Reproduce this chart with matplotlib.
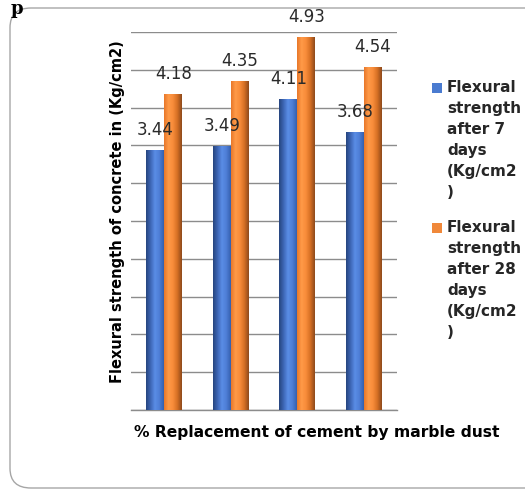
import numpy as np
import matplotlib
matplotlib.use('Agg')
import matplotlib.pyplot as plt
from matplotlib.colors import LinearSegmentedColormap
from matplotlib.patches import FancyBboxPatch, Rectangle

# data
categories = ['0%', '5%', '10%', '15%']
strength_7 = [3.44, 3.49, 4.11, 3.68]
strength_28 = [4.18, 4.35, 4.93, 4.54]
legend_labels = ['Flexural\nstrength\nafter 7\ndays\n(Kg/cm2\n)',
                 'Flexural\nstrength\nafter 28\ndays\n(Kg/cm2\n)']

blue = '#4A7BD0'
orange = '#F0883A'
blue_cmap = LinearSegmentedColormap.from_list('b', ['#26457F', '#3D66B5', '#5A8DE6', '#4E7ED6', '#3560AE'])
orange_cmap = LinearSegmentedColormap.from_list('o', ['#E8782A', '#FF9A48', '#F88C3A', '#D56F24', '#8E4A1C'])

fig = plt.figure(figsize=(5.25, 4.91), dpi=100)

# rounded chart border (behind the axes), right edge runs past the image
fig.patches.append(FancyBboxPatch((10/525, 1 - 488/491), 540/525, 480/491,
                                  boxstyle='round,pad=0,rounding_size=0.04',
                                  transform=fig.transFigure, facecolor='none',
                                  edgecolor='#A6A6A6', linewidth=1.0, zorder=-1))
fig.text(0.02, 0.999, 'p', fontsize=13, fontweight='bold', family='DejaVu Serif',
         va='top', ha='left')

ax = fig.add_axes([131/525, 1 - 410/491, 266/525, 378/491])
ax.set_facecolor('none')

x = np.arange(len(categories))
w = 0.27
b1 = ax.bar(x - w/2, strength_7, w, color=blue, zorder=2)
b2 = ax.bar(x + w/2, strength_28, w, color=orange, zorder=2)

# cylinder-like shading on each bar
grad = np.linspace(0, 1, 64).reshape(1, -1)
for bars, cmap in [(b1, blue_cmap), (b2, orange_cmap)]:
    for r in bars:
        x0, y0 = r.get_x(), r.get_y()
        im = ax.imshow(grad, extent=[x0, x0 + r.get_width(), y0, y0 + r.get_height()],
                       aspect='auto', cmap=cmap, zorder=3)
        im.set_clip_path(r)

for bars, vals in [(b1, strength_7), (b2, strength_28)]:
    for r, v in zip(bars, vals):
        ax.annotate('%.2f' % v, (r.get_x() + r.get_width()/2, v), xytext=(0, 14.5),
                    textcoords='offset points', ha='center', va='center',
                    fontsize=12, color='#2A2A2A', zorder=5, annotation_clip=False)

ax.set_xlim(-0.5, 3.5)
ax.set_ylim(0, 5)
ax.set_yticks(np.arange(0, 5.01, 0.5))
ax.yaxis.grid(True, color='#8C8C8C', linewidth=1.0, zorder=1)
ax.set_axisbelow(True)
ax.tick_params(left=False, bottom=False, labelleft=False, labelbottom=False)
for s in ['top', 'right', 'left']:
    ax.spines[s].set_visible(False)
ax.spines['bottom'].set_color('#8C8C8C')
ax.spines['bottom'].set_linewidth(1.0)

fig.text(118/525, 1 - 212/491, 'Flexural strength of concrete in (Kg/cm2)',
         rotation=90, ha='center', va='center', fontsize=10.5, fontweight='bold')
fig.text(317/525, 1 - 433/491, '% Replacement of cement by marble dust',
         ha='center', va='center', fontsize=11.2, fontweight='bold')

# legend drawn by hand: square marker + wrapped text
for label, color, ytop in [(legend_labels[0], blue, 82), (legend_labels[1], orange, 222)]:
    fig.patches.append(Rectangle((432/525, 1 - (ytop + 11)/491), 10/525, 10/491,
                                 transform=fig.transFigure, facecolor=color,
                                 edgecolor='none'))
    fig.text(447/525, 1 - (ytop - 2)/491, label, ha='left', va='top',
             fontsize=11, fontweight='bold', color='#262626', linespacing=1.5)

fig.savefig('out.png', dpi=100)
